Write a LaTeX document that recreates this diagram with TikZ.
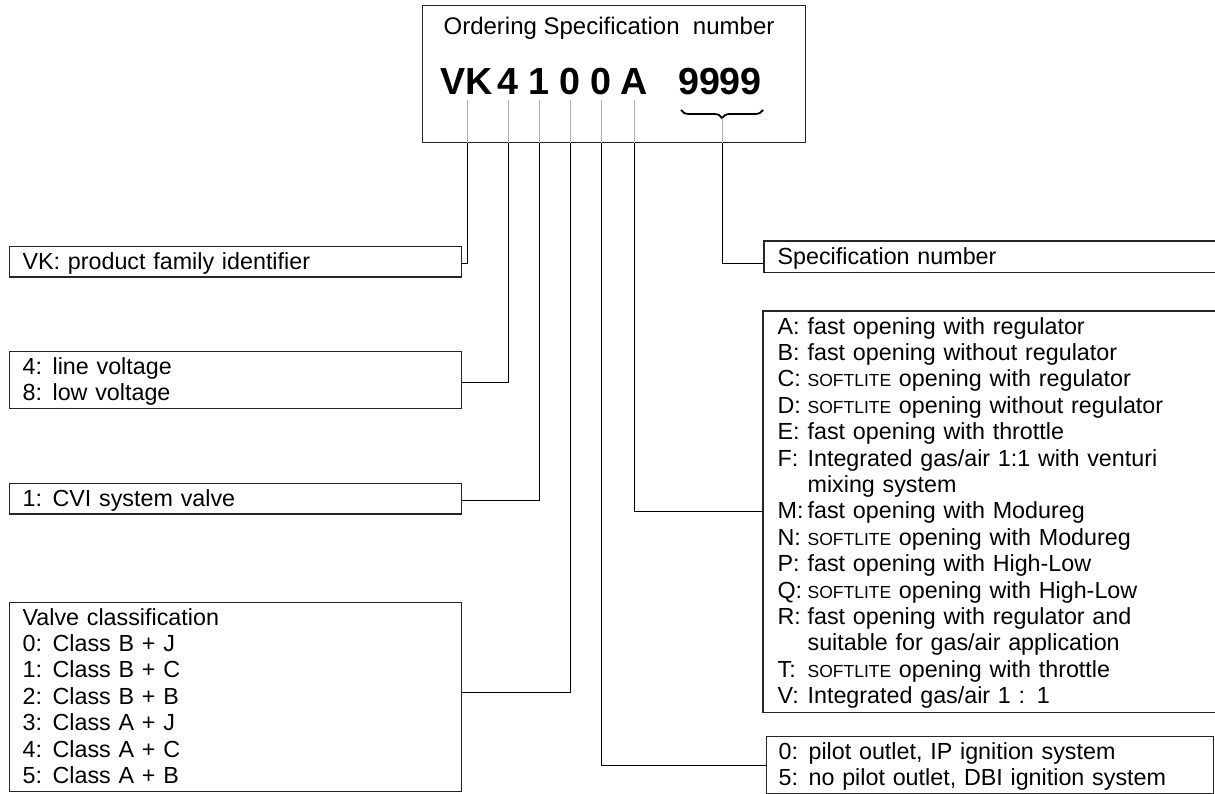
\documentclass[tikz,border=0pt]{standalone}
\usepackage{fontspec}
\setmainfont{Liberation Sans}
\usetikzlibrary{decorations.pathreplacing}
\newcommand{\bfz}{\fontsize{23.3}{26.4}\selectfont}
\newcommand{\ttlz}{\fontsize{24}{26.4}\selectfont}
\newcommand{\vs}{\rule[-5.9pt]{0pt}{26.4pt}}
\newcommand{\lbl}[1]{\vs\makebox[30pt][l]{#1}}
\newcommand{\softl}{{\fontsize{17.5}{17.5}\selectfont SOFTLITE}}
\newcommand{\bigch}{\fontsize{37.7}{40}\selectfont\bfseries}
\begin{document}
\begin{tikzpicture}[x=1pt,y=-1pt,
  outline/.style={draw=black!85, line width=1.2pt},
  box/.style={outline, anchor=north west, inner xsep=13pt, inner ysep=2pt, align=left, font=\bfz},
  leftbox/.style={box, text width=426pt},
  openbox/.style={box, draw=none},
  ch/.style={anchor=base, inner sep=0pt, font=\bigch},
  conn/.style={draw=black, line width=1pt},
  inner/.style={draw=black!30, line width=1pt}]
\useasboundingbox (0,0) rectangle (1215,794);
\fill[white] (0,0) rectangle (1215,794);

% top box
\node[outline, anchor=north west, minimum width=383pt, minimum height=137pt, inner sep=0pt] (top) at (422,5) {};
\node[anchor=base, inner sep=0pt, font=\ttlz] (title) at (609,35) {Ordering Specification~ number};
\node[ch] (cVK) at (467,95) {VK};
\node[ch] (c4) at (508,95) {4};
\node[ch] (c1) at (539,95) {1};
\node[ch] (c0a) at (570,95) {0};
\node[ch] (c0b) at (601,95) {0};
\node[ch] (cA) at (634,95) {A};
\node[ch] (c9) at (720,95) {9999};
\coordinate (brl) at (681,110);
\coordinate (brr) at (763,110);
\coordinate (brtip) at (722,118);
\draw[decorate, decoration={brace, mirror, amplitude=8pt}, line width=1.8pt] (brl) -- (brr);

% left boxes
\node[leftbox] (vk) at (9,246) {\vs VK: product family identifier};
\node[leftbox] (volt) at (9,351) {\lbl{4:}line voltage\\\lbl{8:}low voltage};
\node[leftbox] (cvi) at (9,483) {\lbl{1:}CVI system valve};
\node[leftbox] (valve) at (9,602) {\vs Valve classification\\
  \lbl{0:}Class B + J\\
  \lbl{1:}Class B + C\\
  \lbl{2:}Class B + B\\
  \lbl{3:}Class A + J\\
  \lbl{4:}Class A + C\\
  \lbl{5:}Class A + B};

% right boxes
\node[openbox, text width=425pt] (spec) at (764,241) {\vs Specification number};
\draw[outline] (spec.north east) -- (spec.north west) -- (spec.south west) -- (spec.south east);
\node[openbox, inner xsep=14pt, text width=424pt] (letter) at (763,311) {\lbl{A:}fast opening with regulator\\
  \lbl{B:}fast opening without regulator\\
  \lbl{C:}\softl{} opening with regulator\\
  \lbl{D:}\softl{} opening without regulator\\
  \lbl{E:}fast opening with throttle\\
  \lbl{F:}Integrated gas/air 1:1 with venturi\\
  \lbl{}mixing system\\
  \lbl{M:}fast opening with Modureg\\
  \lbl{N:}\softl{} opening with Modureg\\
  \lbl{P:}fast opening with High-Low\\
  \lbl{Q:}\softl{} opening with High-Low\\
  \lbl{R:}fast opening with regulator and\\
  \lbl{}suitable for gas/air application\\
  \lbl{T:}\softl{} opening with throttle\\
  \lbl{V:}Integrated gas/air 1 : 1};
\draw[outline] (letter.north east) -- (letter.north west) -- (letter.south west) -- (letter.south east);
\node[box, inner xsep=12pt, text width=423pt] (pilot) at (766,736) {\lbl{0:}pilot outlet, IP ignition system\\
  \lbl{5:}no pilot outlet, DBI ignition system};

% connectors: light parts inside the top box
\foreach \n in {cVK,c4,c1,c0a,c0b,cA}
  \draw[inner] ([yshift=-5pt]\n.base) -- (\n.base |- top.south);
\draw[inner] (brtip) -- (brtip |- top.south);

% connectors: black parts
\draw[conn] (cVK.base |- top.south) |- ([yshift=-2pt]vk.east);
\draw[conn] (c4.base |- top.south) |- ([yshift=-2pt]volt.east);
\draw[conn] (c1.base |- top.south) |- ([yshift=-2pt]cvi.east);
\draw[conn] (c0a.base |- top.south) |- ([yshift=5pt]valve.east);
\draw[conn] (c0b.base |- top.south) |- (pilot.west);
\draw[conn] (cA.base |- top.south) |- (letter.west);
\draw[conn] (brtip |- top.south) |- ([yshift=-7pt]spec.west);
\end{tikzpicture}
\end{document}
